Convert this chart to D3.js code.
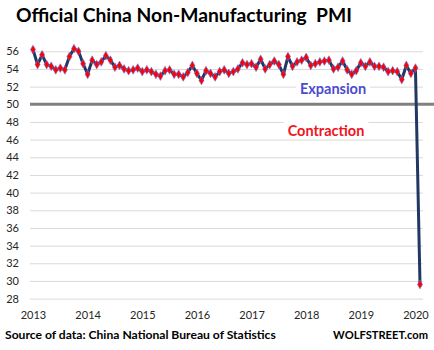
<!DOCTYPE html>
<html>
<head>
<meta charset="utf-8">
<script src="https://cdn.jsdelivr.net/npm/d3@7"></script>
<style>
  body { margin: 0; background: #fff; }
  text { font-family: Lato, "Open Sans", sans-serif; }
</style>
</head>
<body>
<svg id="chart" width="434" height="350"></svg>
<script>
// monthly values, Jan 2013 .. Feb 2020
const pmi2013 = [56.2, 54.5, 55.6, 54.5, 54.3, 53.9, 54.1, 53.9, 55.4, 56.3, 56.0, 54.6];
const pmi2014 = [53.4, 55.0, 54.5, 54.8, 55.5, 55.0, 54.2, 54.4, 54.0, 53.8, 53.9, 54.1];
const pmi2015 = [53.7, 53.9, 53.7, 53.4, 53.2, 53.8, 53.9, 53.4, 53.4, 53.1, 53.6, 54.4];
const pmi2016 = [53.5, 52.7, 53.8, 53.5, 53.1, 53.7, 53.9, 53.5, 53.7, 54.0, 54.7, 54.5];
const pmi2017 = [54.6, 54.2, 55.1, 54.0, 54.5, 54.9, 54.5, 53.4, 55.4, 54.3, 54.8, 55.0];
const pmi2018 = [55.3, 54.4, 54.6, 54.8, 54.9, 55.0, 54.0, 54.2, 54.9, 53.9, 53.4, 53.8];
const pmi2019 = [54.7, 54.3, 54.8, 54.3, 54.3, 54.2, 53.7, 53.8, 53.7, 52.8, 54.4, 53.5];
const pmi2020 = [54.1, 29.6];
const years = [2013, 2014, 2015, 2016, 2017, 2018, 2019, 2020];
const yTicks = d3.range(28, 57, 2);

const values = [].concat(pmi2013, pmi2014, pmi2015, pmi2016, pmi2017, pmi2018, pmi2019, pmi2020);
const data = values.map((v, i) => ({ i: i, v: v }));

const svg = d3.select('#chart');
const plotLeft = 30, plotRight = 423;

const x = d3.scaleLinear().domain([0, 85]).range([33, 420]);
const y = d3.scaleLinear().domain([28, 56]).range([298.6, 51.3]);

// gridlines + y labels
const yAxisG = svg.append('g')
    .attr('transform', `translate(${plotLeft},0)`)
    .call(d3.axisLeft(y)
      .tickValues(yTicks)
      .tickSize(-(plotRight - plotLeft))
      .tickPadding(11)
      .tickFormat(d3.format('d')));
yAxisG.select('.domain').remove();
yAxisG.selectAll('.tick line').attr('stroke', '#d9d9d9').attr('stroke-width', 1);
yAxisG.selectAll('.tick text')
    .attr('fill', '#262626')
    .style('font-size', '11px');
// the 50 tick line is drawn separately
yAxisG.selectAll('.tick').filter(d => d === 50).select('line').remove();

// x labels
const xAxisG = svg.append('g')
    .attr('transform', `translate(0,${y(28)})`)
    .call(d3.axisBottom(x)
      .tickValues(years.map((yr, k) => k * 12))
      .tickSize(0)
      .tickPadding(12.5)
      .tickFormat((d, k) => years[k]));
xAxisG.select('.domain').remove();
xAxisG.selectAll('.tick text')
    .attr('fill', '#262626')
    .style('font-size', '11px');

// 50 line
svg.append('line')
    .attr('x1', plotLeft).attr('x2', 434)
    .attr('y1', y(50)).attr('y2', y(50))
    .attr('stroke', '#808080')
    .attr('stroke-width', 3);

// region labels with white boxes
function regionLabel(txt, cx, baseline, color) {
  const g = svg.append('g');
  const rect = g.append('rect').attr('fill', '#fff');
  const t = g.append('text')
      .attr('x', cx).attr('y', baseline)
      .attr('text-anchor', 'middle')
      .attr('fill', color)
      .style('font-size', '14.5px')
      .style('font-weight', 'bold')
      .text(txt);
  const b = t.node().getBBox();
  rect.attr('x', b.x - 4).attr('y', b.y).attr('width', b.width + 8).attr('height', b.height);
}
regionLabel('Expansion', 333, 94, '#4b4bd0');
regionLabel('Contraction', 326, 136, '#f0141e');

// line + markers
const line = d3.line().x(d => x(d.i)).y(d => y(d.v));
svg.append('path')
    .datum(data)
    .attr('d', line)
    .attr('fill', 'none')
    .attr('stroke', '#203864')
    .attr('stroke-width', 3)
    .attr('stroke-linejoin', 'round');

svg.selectAll('.marker').data(data)
  .enter().append('path')
    .attr('class', 'marker')
    .attr('transform', d => `translate(${x(d.i)},${y(d.v)})`)
    .attr('d', d3.symbol().type(d3.symbolDiamond).size(22))
    .attr('fill', '#ff0000')
    .attr('stroke', '#6a72e0')
    .attr('stroke-width', 0.6);

// fit text to a given width by font size
function fitText(t, width) {
  const len = t.node().getComputedTextLength();
  const fs = parseFloat(t.style('font-size'));
  t.style('font-size', (fs * width / len).toFixed(2) + 'px');
}

const title = svg.append('text')
    .attr('x', 16).attr('y', 22)
    .attr('fill', '#000')
    .style('font-size', '17px')
    .style('font-weight', 'bold')
    .style('white-space', 'pre')
    .text('Official China Non-Manufacturing  PMI');
fitText(title, 336);

const source = svg.append('text')
    .attr('x', 5).attr('y', 338.5)
    .attr('fill', '#000')
    .style('font-size', '11px')
    .style('font-weight', 'bold')
    .text('Source of data: China National Bureau of Statistics');
fitText(source, 271);

const wolf = svg.append('text')
    .attr('x', 428).attr('y', 338.5)
    .attr('text-anchor', 'end')
    .attr('fill', '#000')
    .style('font-size', '11px')
    .style('font-weight', 'bold')
    .text('WOLFSTREET.com');
fitText(wolf, 95);
</script>
</body>
</html>
